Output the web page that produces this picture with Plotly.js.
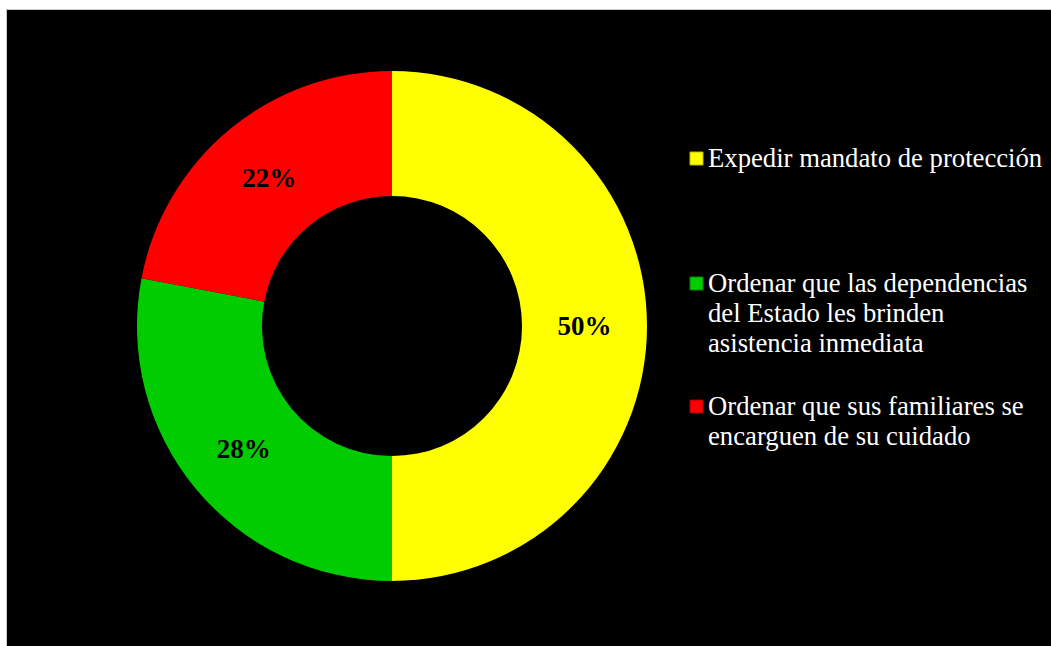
<!DOCTYPE html>
<html>
<head>
<meta charset="utf-8">
<script src="https://cdn.plot.ly/plotly-3.0.1.min.js"></script>
<style>
  html, body { margin: 0; padding: 0; background: #ffffff; width: 1051px; height: 646px; overflow: hidden; }
  #frame { position: absolute; left: 6px; top: 9px; width: 1045px; height: 637px; border-top: 1px solid #c8c8c8; border-left: 1px solid #c8c8c8; box-sizing: border-box; }
  #chart { position: absolute; left: 7px; top: 10px; width: 1044px; height: 636px; }
</style>
</head>
<body>
<div id="frame"></div>
<div id="chart"></div>
<script>
// Data
const labels = [
  "Expedir mandato de protección",
  "Ordenar que las dependencias<br>del Estado les brinden<br>asistencia inmediata",
  "Ordenar que sus familiares se<br>encarguen de su cuidado"
];
const values = [50, 28, 22];
const colors = ["#FFFF00", "#00CC00", "#FF0000"];
const edgeColors = ["#b8b800", "#008800", "#a00000"];

const SERIF = "Liberation Serif";
const W = 1044, H = 636;
const px = x => x / W;
const py = y => 1 - y / H;

// donut geometry (div pixel coords)
const cx = 385, cy = 316, R = 255;

const trace = {
  type: "pie",
  labels: labels,
  values: values,
  sort: false,
  direction: "clockwise",
  rotation: 0,
  hole: 0.51,
  marker: { colors: colors, line: { color: "#000000", width: 0 } },
  texttemplate: "%{percent:.0%}",
  textposition: "inside",
  insidetextorientation: "horizontal",
  textfont: { family: SERIF, size: 27, color: "#000000", weight: "bold" },
  domain: { x: [px(cx - R), px(cx + R)], y: [py(cy + R), py(cy - R)] },
  showlegend: false,
  hoverinfo: "label+percent"
};

// custom legend (built from labels/colors), div pixel coords of first-line centres
const legendLineCenters = [148, 273, 396];
const linePitch = 30;
const annotations = [];
const shapes = [];
labels.forEach((lab, i) => {
  const yc = legendLineCenters[i];
  lab.split("<br>").forEach((line, j) => {
    annotations.push({
      xref: "paper", yref: "paper",
      x: px(699), y: py(yc + j * linePitch),
      xanchor: "left", yanchor: "middle", align: "left",
      text: line, showarrow: false,
      font: { family: SERIF, size: 26.7, color: "#ffffff" }
    });
  });
  shapes.push({
    type: "rect", xref: "paper", yref: "paper",
    x0: px(683), x1: px(696), y0: py(yc + 7), y1: py(yc - 6),
    fillcolor: colors[i], line: { color: edgeColors[i], width: 1 }
  });
});

const layout = {
  width: W, height: H,
  margin: { l: 0, r: 0, t: 0, b: 0 },
  paper_bgcolor: "#000000",
  plot_bgcolor: "#000000",
  showlegend: false,
  annotations: annotations,
  shapes: shapes
};

Plotly.newPlot("chart", [trace], layout, { displayModeBar: false, staticPlot: true });
</script>
</body>
</html>
